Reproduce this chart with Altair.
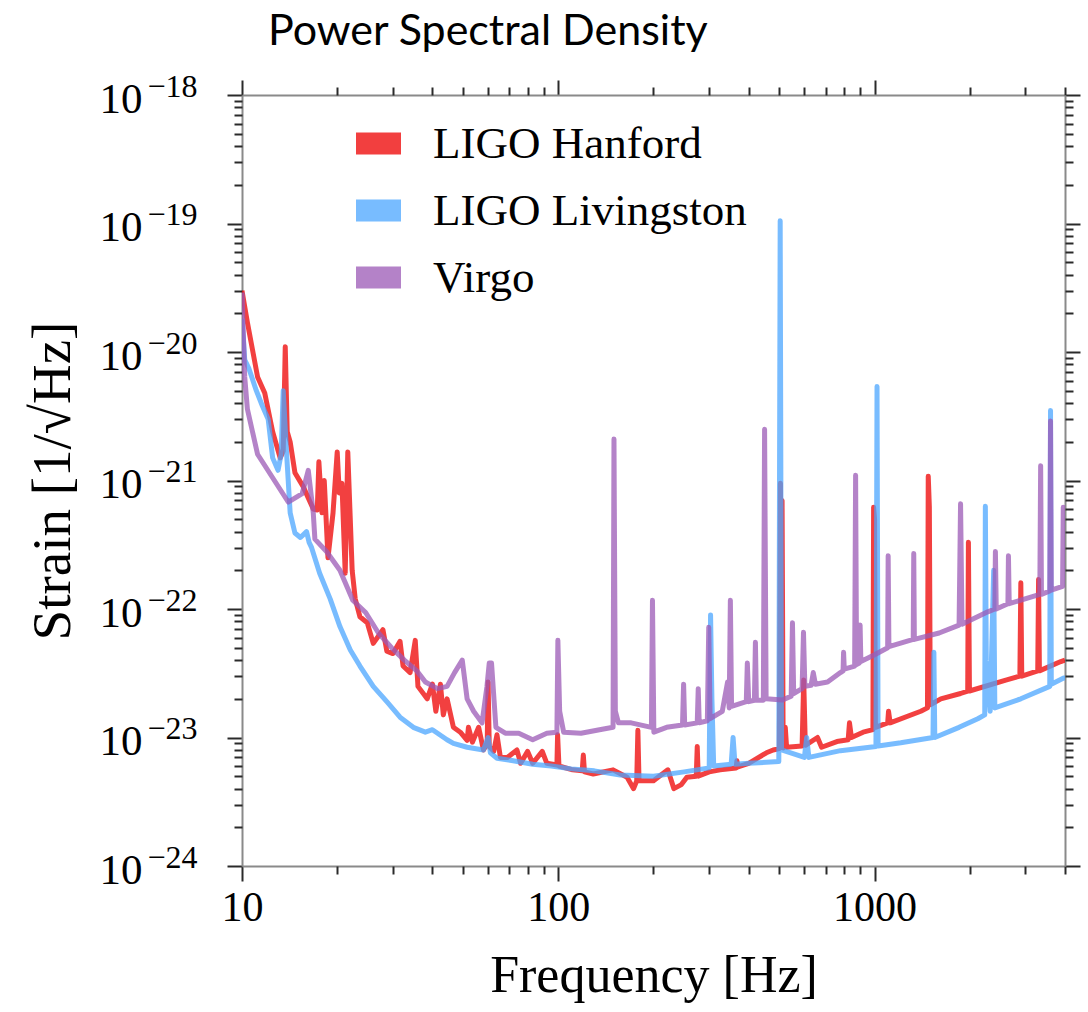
import altair as alt
import pandas as pd

# ---------------- data ----------------
detectors = ["LIGO Hanford", "LIGO Livingston", "Virgo"]
colors = ["#ee0000", "#4ba6ff", "#9b59b6"]

h1_freq = [10.0, 10.4, 11.2, 11.8, 12.5, 13.2, 13.5, 13.7, 13.9, 14.2, 14.7, 15.6, 16.8, 17.3, 17.5,
           17.9, 18.2, 18.7, 19.4, 20.0, 20.3, 20.7, 21.2, 21.6, 22.3, 22.8, 23.6, 24.9, 26.0, 27.9,
           28.7, 30.0, 31.6, 32.3, 34.0, 35.3, 36.0, 38.5, 40.0, 41.0, 42.4, 43.3, 44.5, 46.6, 49.0,
           51.5, 52.0, 53.5, 56.0, 58.0, 59.6, 60.0, 60.5, 62.5, 64.0, 65.6, 69.0, 74.0, 76.0, 80.0,
           83.0, 89.0, 92.0, 99.0, 99.5, 100.5, 111.0, 119.0, 120.0, 121.0, 129.0, 149.0, 165.0, 173.0,
           177.0, 178.5, 180.0, 200.0, 222.0, 232.0, 245.0, 255.0, 273.0, 275.0, 277.0, 300.0, 325.0,
           365.0, 367.0, 370.0, 400.0, 455.0, 478.0, 500.0, 504.0, 507.0, 510.0, 514.0, 522.0, 527.0,
           590.0, 597.0, 604.0, 660.0, 680.0, 760.0, 825.0, 833.0, 845.0, 920.0, 988.0, 993.0, 1000.0,
           1006.0, 1100.0, 1107.0, 1120.0, 1400.0, 1470.0, 1478.0, 1490.0, 1500.0, 1620.0, 1870.0,
           1970.0, 1980.0, 1995.0, 2600.0, 2880.0, 2900.0, 2920.0, 3280.0, 3300.0, 3320.0, 3880.0, 4000.0]
h1_strain = [3.0e-20, 1.7e-20, 6.4e-21, 4.8e-21, 2.4e-21, 1.5e-21, 1.7e-21, 1.1e-20, 2.4e-21, 2.0e-21,
             1.15e-21, 9.0e-22, 6.0e-22, 5.9e-22, 1.4e-21, 5.6e-22, 1.0e-21, 2.5e-22, 5.6e-22, 1.67e-21,
             8.0e-22, 9.5e-22, 1.9e-22, 1.67e-21, 2.0e-22, 1.2e-22, 8.7e-23, 7.8e-23, 5.4e-23, 6.9e-23,
             4.7e-23, 4.5e-23, 5.6e-23, 3.6e-23, 3.2e-23, 5.7e-23, 2.5e-23, 2.0e-23, 2.6e-23, 1.6e-23,
             2.6e-23, 1.5e-23, 2.0e-23, 1.2e-23, 1.1e-23, 9.5e-24, 1.2e-23, 9.2e-24, 1.2e-23, 8.0e-24,
             9.0e-24, 2.7e-23, 8.5e-24, 7.8e-24, 1.05e-23, 7.0e-24, 7.0e-24, 8.0e-24, 6.3e-24, 7.8e-24,
             6.3e-24, 7.8e-24, 6.3e-24, 6.1e-24, 1.05e-23, 6.0e-24, 5.6e-24, 5.5e-24, 7.3e-24, 5.4e-24,
             5.2e-24, 5.6e-24, 4.9e-24, 4.0e-24, 4.6e-24, 1.14e-23, 4.6e-24, 4.6e-24, 5.6e-24, 4.0e-24,
             4.3e-24, 4.9e-24, 5.0e-24, 8.5e-24, 5.0e-24, 5.4e-24, 5.6e-24, 5.8e-24, 6.6e-24, 5.9e-24,
             6.3e-24, 7.6e-24, 8.0e-24, 8.2e-24, 9.5e-22, 1.5e-23, 7.0e-22, 8.3e-24, 1.2e-23, 8.4e-24,
             8.6e-24, 2.8e-23, 8.7e-24, 1.0e-23, 8.4e-24, 9.3e-24, 9.6e-24, 1.3e-23, 1.0e-23, 1.1e-23,
             1.15e-23, 6.2e-22, 5.0e-22, 1.2e-23, 1.3e-23, 1.6e-23, 1.3e-23, 1.6e-23, 1.7e-23, 1.08e-21,
             6.2e-22, 1.8e-23, 2.0e-23, 2.2e-23, 2.3e-23, 3.3e-22, 2.3e-23, 2.8e-23, 3.0e-23, 1.6e-22,
             3.0e-23, 3.3e-23, 1.7e-22, 3.3e-23, 3.9e-23, 4.0e-23]

l1_freq = [10.0, 10.2, 10.5, 11.1, 11.6, 12.1, 12.5, 13.0, 13.3, 13.5, 13.8, 14.2, 14.7, 15.3, 16.0,
           16.3, 16.6, 17.6, 19.0, 20.4, 22.0, 23.6, 26.0, 28.7, 31.6, 34.8, 38.0, 40.0, 44.5, 46.6,
           51.5, 58.0, 60.0, 61.0, 64.0, 72.0, 83.0, 95.0, 110.0, 130.0, 157.0, 200.0, 250.0, 300.0,
           303.0, 306.0, 310.0, 352.0, 357.0, 362.0, 400.0, 498.0, 503.0, 508.0, 600.0, 610.0, 620.0,
           780.0, 1010.0, 1018.0, 1026.0, 1210.0, 1530.0, 1540.0, 1550.0, 1850.0, 2120.0, 2230.0,
           2240.0, 2255.0, 2320.0, 2380.0, 2400.0, 2900.0, 3580.0, 3600.0, 3620.0, 3960.0, 4000.0]
l1_strain = [1.8e-20, 8.7e-21, 7.5e-21, 5.0e-21, 3.8e-21, 3.0e-21, 1.5e-21, 1.2e-21, 1.6e-21, 5.0e-21,
             1.8e-21, 5.6e-22, 3.9e-22, 3.6e-22, 4.0e-22, 3.3e-22, 3.0e-22, 1.9e-22, 1.2e-22, 7.3e-23,
             4.8e-23, 3.6e-23, 2.5e-23, 1.9e-23, 1.44e-23, 1.2e-23, 1.1e-23, 1.15e-23, 9.6e-24, 9.0e-24,
             8.4e-24, 8.0e-24, 1.0e-23, 7.6e-24, 6.9e-24, 6.6e-24, 6.2e-24, 6.0e-24, 5.7e-24, 5.5e-24,
             5.1e-24, 5.0e-24, 5.4e-24, 5.8e-24, 9.0e-23, 2.0e-23, 6.0e-24, 6.2e-24, 1.0e-23, 6.2e-24,
             6.3e-24, 6.5e-24, 1.05e-19, 8.0e-24, 7.0e-24, 1.0e-23, 7.0e-24, 7.9e-24, 8.5e-24, 5.4e-21,
             8.6e-24, 9.1e-24, 1.0e-23, 4.6e-23, 1.0e-23, 1.2e-23, 1.4e-23, 1.5e-23, 6.3e-22, 4.0e-23,
             1.6e-23, 2.0e-22, 1.7e-23, 2.0e-23, 2.5e-23, 3.5e-21, 2.6e-23, 2.9e-23, 2.9e-23]

v1_freq = [10.0, 10.2, 10.4, 11.2, 14.0, 15.5, 16.2, 16.8, 17.0, 18.5, 20.4, 22.4, 24.6, 27.0, 29.7,
           32.6, 35.7, 38.0, 41.5, 44.5, 47.0, 49.7, 51.5, 54.0, 57.4, 59.5, 60.5, 61.5, 63.5, 68.0,
           75.0, 83.0, 92.0, 99.0, 99.7, 101.0, 104.0, 118.0, 135.0, 149.0, 150.0, 151.5, 155.0, 170.0,
           197.0, 198.5, 200.5, 220.0, 247.0, 249.0, 251.0, 275.0, 277.0, 279.0, 296.0, 299.0, 302.0,
           330.0, 343.0, 347.0, 350.0, 353.0, 393.0, 396.0, 400.0, 417.0, 420.0, 423.0, 445.0, 449.0,
           454.0, 512.0, 545.0, 550.0, 555.0, 590.0, 596.0, 602.0, 630.0, 640.0, 650.0, 710.0, 780.0,
           795.0, 798.0, 802.0, 865.0, 871.0, 877.0, 895.0, 900.0, 905.0, 1000.0, 1100.0, 1104.0,
           1110.0, 1325.0, 1330.0, 1336.0, 1600.0, 1850.0, 1870.0, 1890.0, 2280.0, 2400.0, 2410.0,
           2425.0, 2640.0, 2650.0, 2665.0, 3330.0, 3350.0, 3370.0, 3580.0, 3600.0, 3620.0, 3930.0,
           3950.0, 4000.0]
v1_strain = [2.9e-20, 6.4e-21, 3.6e-21, 1.6e-21, 6.8e-22, 7.9e-22, 1.2e-21, 5.6e-22, 3.5e-22, 2.8e-22,
             2.0e-22, 1.17e-22, 9.4e-23, 6.5e-23, 5.0e-23, 4.0e-23, 3.3e-23, 2.7e-23, 2.4e-23, 2.5e-23,
             3.2e-23, 4.0e-23, 2.0e-23, 1.6e-23, 1.3e-23, 2.5e-23, 3.8e-23, 3.8e-23, 1.2e-23, 1.08e-23,
             1.08e-23, 9.6e-24, 1.08e-23, 1.1e-23, 5.7e-23, 1.6e-23, 1.1e-23, 1.08e-23, 1.15e-23, 1.2e-23,
             2.1e-21, 1.6e-23, 1.3e-23, 1.3e-23, 1.2e-23, 1.17e-22, 1.1e-23, 1.2e-23, 1.25e-23, 2.6e-23,
             1.25e-23, 1.3e-23, 2.4e-23, 1.3e-23, 1.35e-23, 7.2e-23, 1.4e-23, 1.6e-23, 2.7e-23, 1.7e-23,
             1.17e-22, 1.75e-23, 1.9e-23, 3.8e-23, 1.9e-23, 1.95e-23, 5.5e-23, 1.95e-23, 1.95e-23, 2.5e-21,
             2.0e-23, 1.96e-23, 2.1e-23, 7.8e-23, 2.2e-23, 2.4e-23, 6.6e-23, 2.5e-23, 2.55e-23, 3.2e-23,
             2.6e-23, 2.7e-23, 3.2e-23, 3.3e-23, 4.6e-23, 3.4e-23, 3.6e-23, 1.1e-21, 3.7e-23, 3.8e-23,
             7.5e-23, 3.9e-23, 4.4e-23, 5.0e-23, 2.6e-22, 5.1e-23, 5.8e-23, 2.7e-22, 5.8e-23, 6.5e-23,
             7.5e-23, 6.6e-22, 7.6e-23, 9.5e-23, 1.0e-22, 2.8e-22, 1.0e-22, 1.1e-22, 2.6e-22, 1.1e-22,
             1.3e-22, 1.3e-21, 1.3e-22, 1.38e-22, 2.9e-21, 1.4e-22, 1.5e-22, 6.2e-22, 1.55e-22]

# axis ticks and tick labels
x_major = [10, 100, 1000]
x_minor = [20, 30, 40, 50, 60, 70, 80, 90, 200, 300, 400, 500, 600, 700, 800, 900, 2000, 3000, 4000]
y_major = [1e-24, 1e-23, 1e-22, 1e-21, 1e-20, 1e-19, 1e-18]
y_base_label = "10"
y_exp_labels = ["\u221224", "\u221223", "\u221222", "\u221221", "\u221220", "\u221219", "\u221218"]
y_minor_mantissas = [2, 3, 4, 5, 6, 7, 8, 9]
y_minor = [float(f"{m}e{e}") for e in range(-24, -18) for m in y_minor_mantissas]

# ---------------- build table ----------------
rows = []
for name, fs, vs in [(detectors[0], h1_freq, h1_strain),
                     (detectors[1], l1_freq, l1_strain),
                     (detectors[2], v1_freq, v1_strain)]:
    for f, v in zip(fs, vs):
        rows.append({"detector": name, "freq": f, "strain": v})
df = pd.DataFrame(rows)

SERIF = "Liberation Serif"
FRAME = "#8a8a8a"
TICK = "#2a2a2a"

xscale = alt.Scale(type="log", domain=[10, 4000], nice=False)
yscale = alt.Scale(type="log", domain=[1e-24, 1e-18], nice=False)

y_exp_expr = " : ".join(f"datum.value == {v!r} ? '{lab}'" for v, lab in zip(y_major, y_exp_labels)) + " : ''"

common_tick = dict(tickWidth=2, tickColor=TICK, grid=False)

ax_x_bottom_major = alt.Axis(orient="bottom", values=x_major, labelExpr="format(datum.value, 'd')",
                             tickSize=15, domain=True, domainColor=FRAME, domainWidth=2,
                             labelFont=SERIF, labelFontSize=42, labelColor="black", labelPadding=6,
                             labelOverlap=False, labelFlush=False,
                             title="Frequency [Hz]", titleFont=SERIF, titleFontSize=52,
                             titleFontWeight="normal", titleColor="black", titlePadding=22,
                             **common_tick)
ax_x_bottom_minor = alt.Axis(orient="bottom", values=x_minor, labels=False, tickSize=8, domain=False,
                             title="", **common_tick)
ax_x_top_major = alt.Axis(orient="top", values=x_major, labels=False, tickSize=15, domain=True,
                          domainColor=FRAME, domainWidth=2, title="", **common_tick)
ax_x_top_minor = alt.Axis(orient="top", values=x_minor, labels=False, tickSize=8, domain=False,
                          title="", **common_tick)

ax_y_left_major = alt.Axis(orient="left", values=y_major, labelExpr=f"'{y_base_label}'",
                           tickSize=15, domain=True, domainColor=FRAME, domainWidth=2,
                           labelFont=SERIF, labelFontSize=43, labelColor="black", labelPadding=85,
                           labelOffset=4, labelOverlap=False, labelFlush=False,
                           title="Strain [1/√Hz]", titleFont=SERIF, titleFontSize=55,
                           titleFontWeight="normal", titleColor="black", titlePadding=18,
                           **common_tick)
ax_y_left_exp = alt.Axis(orient="left", values=y_major, labelExpr=y_exp_expr,
                         tickSize=15, tickOpacity=0, domain=False, grid=False,
                         labelFont=SERIF, labelFontSize=32, labelColor="black", labelPadding=80,
                         labelAlign="left", labelOffset=-9, labelOverlap=False, labelFlush=False,
                         title="")
ax_y_left_minor = alt.Axis(orient="left", values=y_minor, labels=False, tickSize=8, domain=False,
                           title="", **common_tick)
ax_y_right_major = alt.Axis(orient="right", values=y_major, labels=False, tickSize=15, domain=True,
                            domainColor=FRAME, domainWidth=2, title="", **common_tick)
ax_y_right_minor = alt.Axis(orient="right", values=y_minor, labels=False, tickSize=8, domain=False,
                            title="", **common_tick)

base = alt.Chart(df)

lines = base.mark_line(strokeWidth=5, opacity=0.75, strokeJoin="round", clip=True).encode(
    x=alt.X("freq:Q", scale=xscale, axis=ax_x_bottom_major),
    y=alt.Y("strain:Q", scale=yscale, axis=ax_y_left_major),
    color=alt.Color("detector:N", scale=alt.Scale(domain=detectors, range=colors),
                    sort=detectors,
                    legend=alt.Legend(title=None, orient="none", legendX=114, legendY=26,
                                      symbolType="M-4,0H4", symbolSize=126.5625, symbolStrokeWidth=22,
                                      symbolOpacity=0.75, labelLimit=600,
                                      labelFont=SERIF, labelFontSize=45, labelColor="black",
                                      labelOffset=32, rowPadding=-37, padding=0)),
)

def ghost(ax_x, ax_y):
    return base.mark_line(opacity=0, clip=True).encode(
        x=alt.X("freq:Q", scale=xscale, axis=ax_x),
        y=alt.Y("strain:Q", scale=yscale, axis=ax_y),
        detail="detector:N",
    )

chart = alt.layer(
    lines,
    ghost(ax_x_bottom_minor, ax_y_left_minor),
    ghost(ax_x_top_major, ax_y_right_major),
    ghost(ax_x_top_minor, ax_y_right_minor),
    ghost(None, ax_y_left_exp),
).resolve_axis(x="independent", y="independent").properties(
    width=823, height=771,
    title=alt.TitleParams("Power Spectral Density", font="Lato", fontSize=43, fontWeight="normal",
                          color="black", anchor="start", frame="group", dx=26, offset=16),
    autosize=alt.AutoSizeParams(type="none"),
    padding={"left": 242, "top": 95, "right": 23, "bottom": 146},
    background="white",
).configure_view(stroke=None)

chart.save("out.html", embed_options={"renderer": "svg", "actions": False})
